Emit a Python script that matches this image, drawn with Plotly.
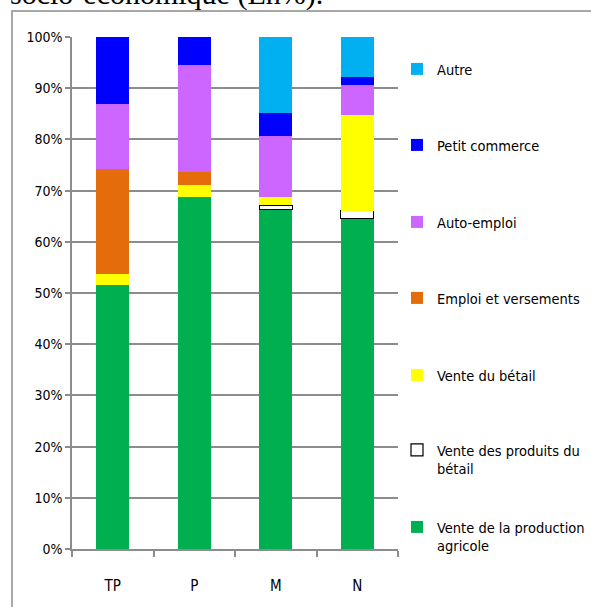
import plotly.graph_objects as go

categories = ["TP", "P", "M", "N"]
agricole = [51.5, 68.7, 66.3, 64.5]
produits_betail = [0.0, 0.0, 0.8, 1.6]
betail = [2.3, 2.3, 1.7, 18.6]
emploi = [20.5, 2.6, 0.0, 0.0]
auto_emploi = [12.7, 21.0, 11.9, 6.0]
petit_commerce = [13.0, 5.4, 4.5, 1.5]
autre = [0.0, 0.0, 14.8, 7.8]

series_names = [
    "Vente de la production<br>agricole",
    "Vente des produits du<br>bétail",
    "Vente du bétail",
    "Emploi et versements",
    "Auto-emploi",
    "Petit commerce",
    "Autre",
]
series_values = [agricole, produits_betail, betail, emploi, auto_emploi, petit_commerce, autre]
series_colors = ["#00B050", "#FFFFFF", "#FFFF00", "#E46C0A", "#CC66FF", "#0000FF", "#00B0F0"]
# vertical pixel position of first legend text line, per series (same order)
legend_rows = [527, 450, 375, 298, 222, 145, 69]

FONT = "DejaVu Sans Condensed, Liberation Sans Narrow, Arial Narrow, sans-serif"

W, H = 591, 607
L, R, T, B = 72, 193, 37, 58
pw = W - L - R
ph = H - T - B


def px_x(x):
    return (x - L) / pw


def px_y(y):
    return (H - B - y) / ph


fig = go.Figure()
legend_layouts = {}
for i, (name, vals, col, row) in enumerate(zip(series_names, series_values, series_colors, legend_rows)):
    is_white = col == "#FFFFFF"
    key = "legend" if i == 0 else f"legend{i + 1}"
    fig.add_trace(go.Bar(
        x=categories,
        y=[v if v else None for v in vals],
        name=name,
        marker=dict(color=col,
                    line=dict(color="#000000" if is_white else col,
                              width=1.2 if is_white else 0)),
        legend=key,
        showlegend=True,
    ))
    legend_layouts[key] = dict(
        x=px_x(397), xanchor="left",
        y=px_y(row - 16), yanchor="top",
        valign="top",
        font=dict(family=FONT, size=14.5, color="#000000"),
        bgcolor="rgba(0,0,0,0)",
    )

fig.update_layout(
    width=W, height=H,
    margin=dict(l=L, r=R, t=T, b=B, autoexpand=False),
    barmode="stack",
    bargap=0.595,
    paper_bgcolor="white",
    plot_bgcolor="white",
    font=dict(family=FONT, size=15, color="#000000"),
    showlegend=True,
    xaxis=dict(
        showline=True, linecolor="#8c8c8c", linewidth=1.5,
        ticks="outside", tickson="boundaries", ticklen=6,
        tickcolor="#8c8c8c", tickwidth=1.5,
        ticklabelstandoff=22,
        tickfont=dict(family=FONT, size=15),
        showgrid=False,
    ),
    yaxis=dict(
        range=[0, 100], dtick=10, ticksuffix="%",
        showline=True, linecolor="#8c8c8c", linewidth=1.5,
        ticks="outside", ticklen=5, tickcolor="#8c8c8c", tickwidth=1.5,
        showgrid=True, gridcolor="#8c8c8c", gridwidth=1.5,
        zeroline=False,
        tickfont=dict(family=FONT, size=14),
    ),
    **legend_layouts,
)

# Outer frame (partially visible border of the surrounding box)
fig.add_shape(type="rect", xref="paper", yref="paper",
              x0=px_x(12), x1=px_x(640), y0=px_y(660), y1=px_y(11),
              line=dict(color="#8c8c8c", width=1.5), fillcolor="rgba(0,0,0,0)",
              layer="below")

# Cut-off caption text above the chart
fig.add_annotation(
    text="socio-économique (En%).", xref="paper", yref="paper",
    x=px_x(8), y=px_y(13), xanchor="left", yanchor="bottom",
    showarrow=False,
    font=dict(family="Liberation Serif, Times New Roman, serif", size=30, color="#000000"),
)

fig.write_html("out.html", config={"displayModeBar": False},
               post_script="document.body.style.margin='0';")
